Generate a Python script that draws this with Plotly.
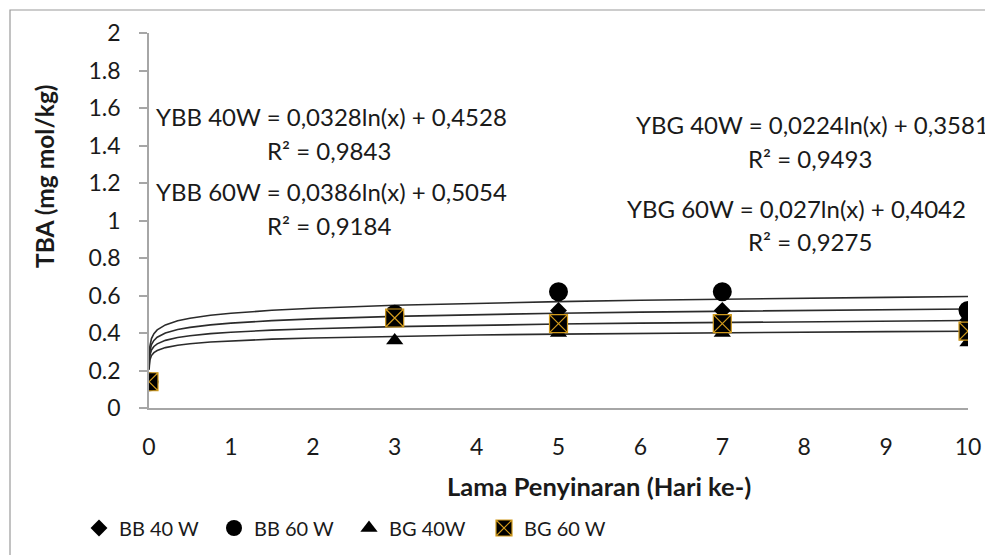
import plotly.graph_objects as go
import math

days = [0, 3, 5, 7, 10]
bb40 = [0.14, 0.48, 0.52, 0.52, 0.47]
bb60 = [0.14, 0.50, 0.62, 0.62, 0.52]
bg40 = [0.14, 0.36, 0.40, 0.40, 0.35]
bg60 = [0.14, 0.48, 0.45, 0.45, 0.41]

# trendline coefficients shown on chart: y = a*ln(x) + b
trend_coef = {
    "YBB 40W": (0.0328, 0.4528),
    "YBB 60W": (0.0386, 0.5054),
    "YBG 40W": (0.0224, 0.3581),
    "YBG 60W": (0.027, 0.4042),
}
trend_x = [0.001, 0.003, 0.01, 0.03, 0.06, 0.1, 0.2, 0.35, 0.5, 0.75, 1, 1.5, 2, 3, 4, 5, 6, 7, 8, 9, 10]

FONT = "Lato"
TXT = "#1a1a1a"
OFF = 8  # page body margin offset

fig = go.Figure()

for name, (a, b) in trend_coef.items():
    fig.add_trace(go.Scatter(
        x=trend_x, y=[a * math.log(x) + b for x in trend_x], mode="lines",
        line=dict(color="#2b2b2b", width=1.6), showlegend=False, hoverinfo="skip"))

fig.add_trace(go.Scatter(x=days, y=bb40, mode="markers", name="BB 40 W",
                         marker=dict(symbol="diamond", size=13, color="black")))
fig.add_trace(go.Scatter(x=days, y=bb60, mode="markers", name="BB 60 W",
                         marker=dict(symbol="circle", size=19, color="black")))
fig.add_trace(go.Scatter(x=days, y=bg40, mode="markers", name="BG 40W",
                         marker=dict(symbol="triangle-up", size=15, color="black")))
fig.add_trace(go.Scatter(x=days, y=bg60, mode="markers", name="BG 60 W",
                         marker=dict(symbol="square-x", size=18, color="black",
                                     line=dict(color="#d19a1c", width=1.2))))

# screen pixel -> paper helpers (plot area 149..968 x 33..408 on screen)
def px_x(p):
    return (p - 149) / 819

def px_y(p):
    return (408 - p) / 375

labels = [
    ("YBB 40W = 0,0328ln(x) + 0,4528", 331, 116),
    ("R² = 0,9843", 329, 150),
    ("YBB 60W = 0,0386ln(x) + 0,5054", 331, 191),
    ("R² = 0,9184", 329, 225),
    ("YBG 40W = 0,0224ln(x) + 0,3581", 812, 125),
    ("R² = 0,9493", 810, 158),
    ("YBG 60W = 0,027ln(x) + 0,4042", 796, 208),
    ("R² = 0,9275", 810, 241),
]
for t, x, y in labels:
    fig.add_annotation(x=px_x(x), y=px_y(y), xref="paper", yref="paper", text=t, showarrow=False,
                       font=dict(family=FONT, size=24, color=TXT), xanchor="center", yanchor="middle")

fig.add_annotation(x=px_x(599), y=px_y(486), xref="paper", yref="paper",
                   text="<b>Lama Penyinaran (Hari ke-)</b>", xanchor="center", yanchor="middle",
                   showarrow=False, font=dict(family=FONT, size=25.5, color=TXT))
fig.add_annotation(x=px_x(44), y=px_y(176), xref="paper", yref="paper", text="<b>TBA (mg mol/kg)</b>",
                   xanchor="center", yanchor="middle",
                   showarrow=False, textangle=-90, font=dict(family=FONT, size=24.5, color=TXT))

# outer chart border
fig.add_shape(type="rect", xref="paper", yref="paper",
              x0=px_x(10), x1=px_x(1010), y0=px_y(575), y1=px_y(10),
              line=dict(color="#9a9a9a", width=1.2), fillcolor="rgba(0,0,0,0)", layer="below")

fig.update_layout(
    width=993 - OFF, height=555 - OFF,
    margin=dict(l=149 - OFF, r=25, t=33 - OFF, b=147, autoexpand=False),
    paper_bgcolor="white", plot_bgcolor="white",
    font=dict(family=FONT, size=20, color=TXT),
    showlegend=True,
    legend=dict(orientation="h", x=px_x(79), xanchor="left", y=px_y(528), yanchor="middle",
                font=dict(family=FONT, size=20, color=TXT), entrywidth=90, itemsizing="trace",
                bgcolor="rgba(0,0,0,0)"),
)
fig.update_xaxes(range=[0, 10], tickvals=list(range(11)), showgrid=False, zeroline=False,
                 showline=True, linecolor="#a6a6a6", linewidth=1.5, ticks="",
                 ticklabelstandoff=18, tickfont=dict(family=FONT, size=23, color=TXT))
fig.update_yaxes(range=[0, 2], tickvals=[0, 0.2, 0.4, 0.6, 0.8, 1, 1.2, 1.4, 1.6, 1.8, 2],
                 ticktext=["0", "0.2", "0.4", "0.6", "0.8", "1", "1.2", "1.4", "1.6", "1.8", "2"],
                 showgrid=False, zeroline=False, showline=True, linecolor="#a6a6a6", linewidth=1.5,
                 ticks="outside", ticklen=8, tickcolor="#a6a6a6", tickwidth=1.5,
                 ticklabelstandoff=14, tickfont=dict(family=FONT, size=23, color=TXT))

fig.write_html("out.html")
